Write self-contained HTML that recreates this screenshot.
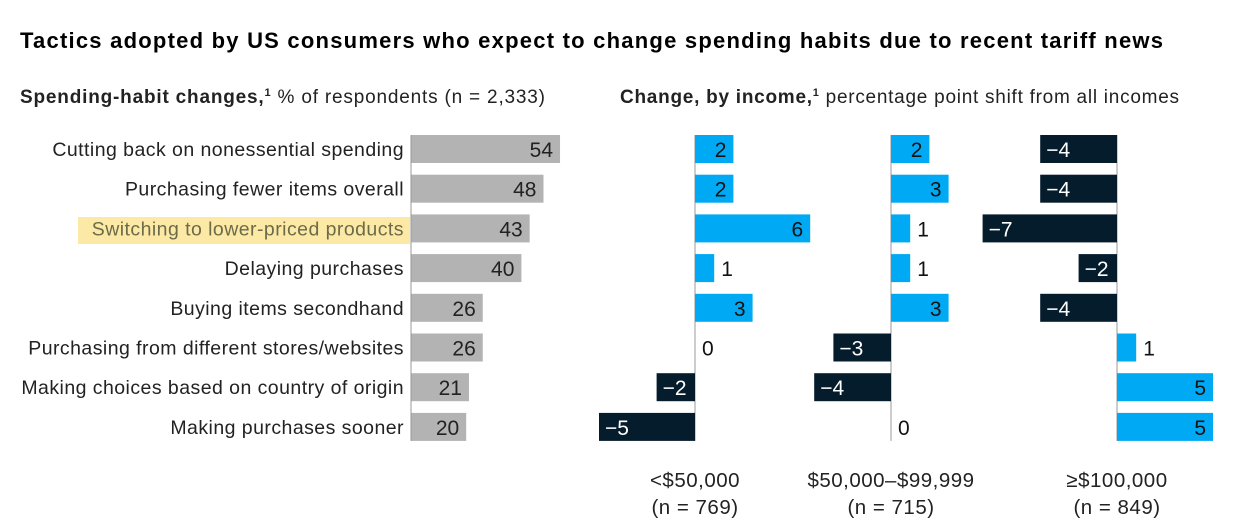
<!DOCTYPE html>
<html><head><meta charset="utf-8"><style>
body{margin:0;background:#fff;font-family:"Liberation Sans",sans-serif}
svg{display:block}
text{font-family:"Liberation Sans",sans-serif}
</style></head><body>
<svg id="c" width="1241" height="531">
<text x="20" y="48" font-size="22" font-weight="bold" fill="#000" textLength="1143" lengthAdjust="spacing">Tactics adopted by US consumers who expect to change spending habits due to recent tariff news</text>
<text x="20" y="103" font-size="19" fill="#222" textLength="525" lengthAdjust="spacing"><tspan font-weight="bold">Spending-habit changes,</tspan><tspan font-weight="bold" font-size="11" dy="-7">1</tspan><tspan dy="7"> % of respondents (n = 2,333)</tspan></text>
<text x="620" y="103" font-size="19" fill="#222" textLength="559" lengthAdjust="spacing"><tspan font-weight="bold">Change, by income,</tspan><tspan font-weight="bold" font-size="11" dy="-7">1</tspan><tspan dy="7"> percentage point shift from all incomes</tspan></text>
<rect x="78" y="217" width="332" height="27" fill="#fde9a6"/>
<g id="g"></g>
</svg>
<script>
const categories=["Cutting back on nonessential spending","Purchasing fewer items overall","Switching to lower-priced products","Delaying purchases","Buying items secondhand","Purchasing from different stores/websites","Making choices based on country of origin","Making purchases sooner"];
const overall=[54,48,43,40,26,26,21,20];
const incomeLow=[2,2,6,1,3,0,-2,-5];
const incomeMid=[2,3,1,1,3,-3,-4,0];
const incomeHigh=[-4,-4,-7,-2,-4,1,5,5];
const groupNames=["<$50,000","$50,000–$99,999","≥$100,000"];
const groupN=["(n = 769)","(n = 715)","(n = 849)"];
const NS="http://www.w3.org/2000/svg";
const g=document.getElementById('g');
function mk(t,a,txt){const e=document.createElementNS(NS,t);for(const k in a)e.setAttribute(k,a[k]);if(txt!==undefined)e.textContent=txt;g.appendChild(e);return e;}
const y0=135,pitch=39.7,bh=28;
const yRow=i=>y0+i*pitch;
const xL=v=>411+v*2.76;
const axes=[695,891,1117];
const sc=19.2;
const fmt=v=>v<0?"−"+Math.abs(v):String(v);
categories.forEach((c,i)=>{
  const y=yRow(i);
  let t=mk('text',{x:404,y:y+21,'font-size':19.5,'letter-spacing':0.45,'text-anchor':'end',fill:i==2?'#6b6b4a':'#222'},c);
  
  
  let r=mk('rect',{x:411,y:y,width:xL(overall[i])-411,height:bh,fill:'#b3b3b3'});
  
  
  let v=mk('text',{x:xL(overall[i])-7,y:y+22,'font-size':21,'text-anchor':'end',fill:'#222'},overall[i]);
  
  
});
const ln=mk('line',{x1:411,x2:411,y1:y0,y2:yRow(7)+bh,stroke:'#999','stroke-width':1});


[incomeLow,incomeMid,incomeHigh].forEach((arr,gi)=>{
  const ax=axes[gi];
  const l=mk('line',{x1:ax,x2:ax,y1:y0,y2:yRow(7)+bh,stroke:'#999','stroke-width':1});
  
  
  arr.forEach((v,i)=>{
    const y=yRow(i),w=Math.abs(v)*sc;
    if(v!==0){
      const r=mk('rect',{x:v>0?ax:ax-w,y:y,width:w,height:bh,fill:v>0?'#00a9f4':'#051c2c'});
      
      
    }
    let tx,anc,col;
    if(v>1){tx=ax+w-7;anc='end';col='#111';}
    else if(v>=0){tx=ax+w+7;anc='start';col='#111';}
    else {tx=ax-w+6;anc='start';col='#fff';}
    const t=mk('text',{x:tx,y:y+22,'font-size':21,'text-anchor':anc,fill:col},fmt(v));
    
    
  });
  const a=mk('text',{x:ax,y:487,'font-size':20.5,'letter-spacing':0.5,'text-anchor':'middle',fill:'#222'},groupNames[gi]);
  
  
  const b=mk('text',{x:ax,y:514,'font-size':20.5,'letter-spacing':0.5,'text-anchor':'middle',fill:'#222'},groupN[gi]);
  
  
});
</script>
</body></html>
